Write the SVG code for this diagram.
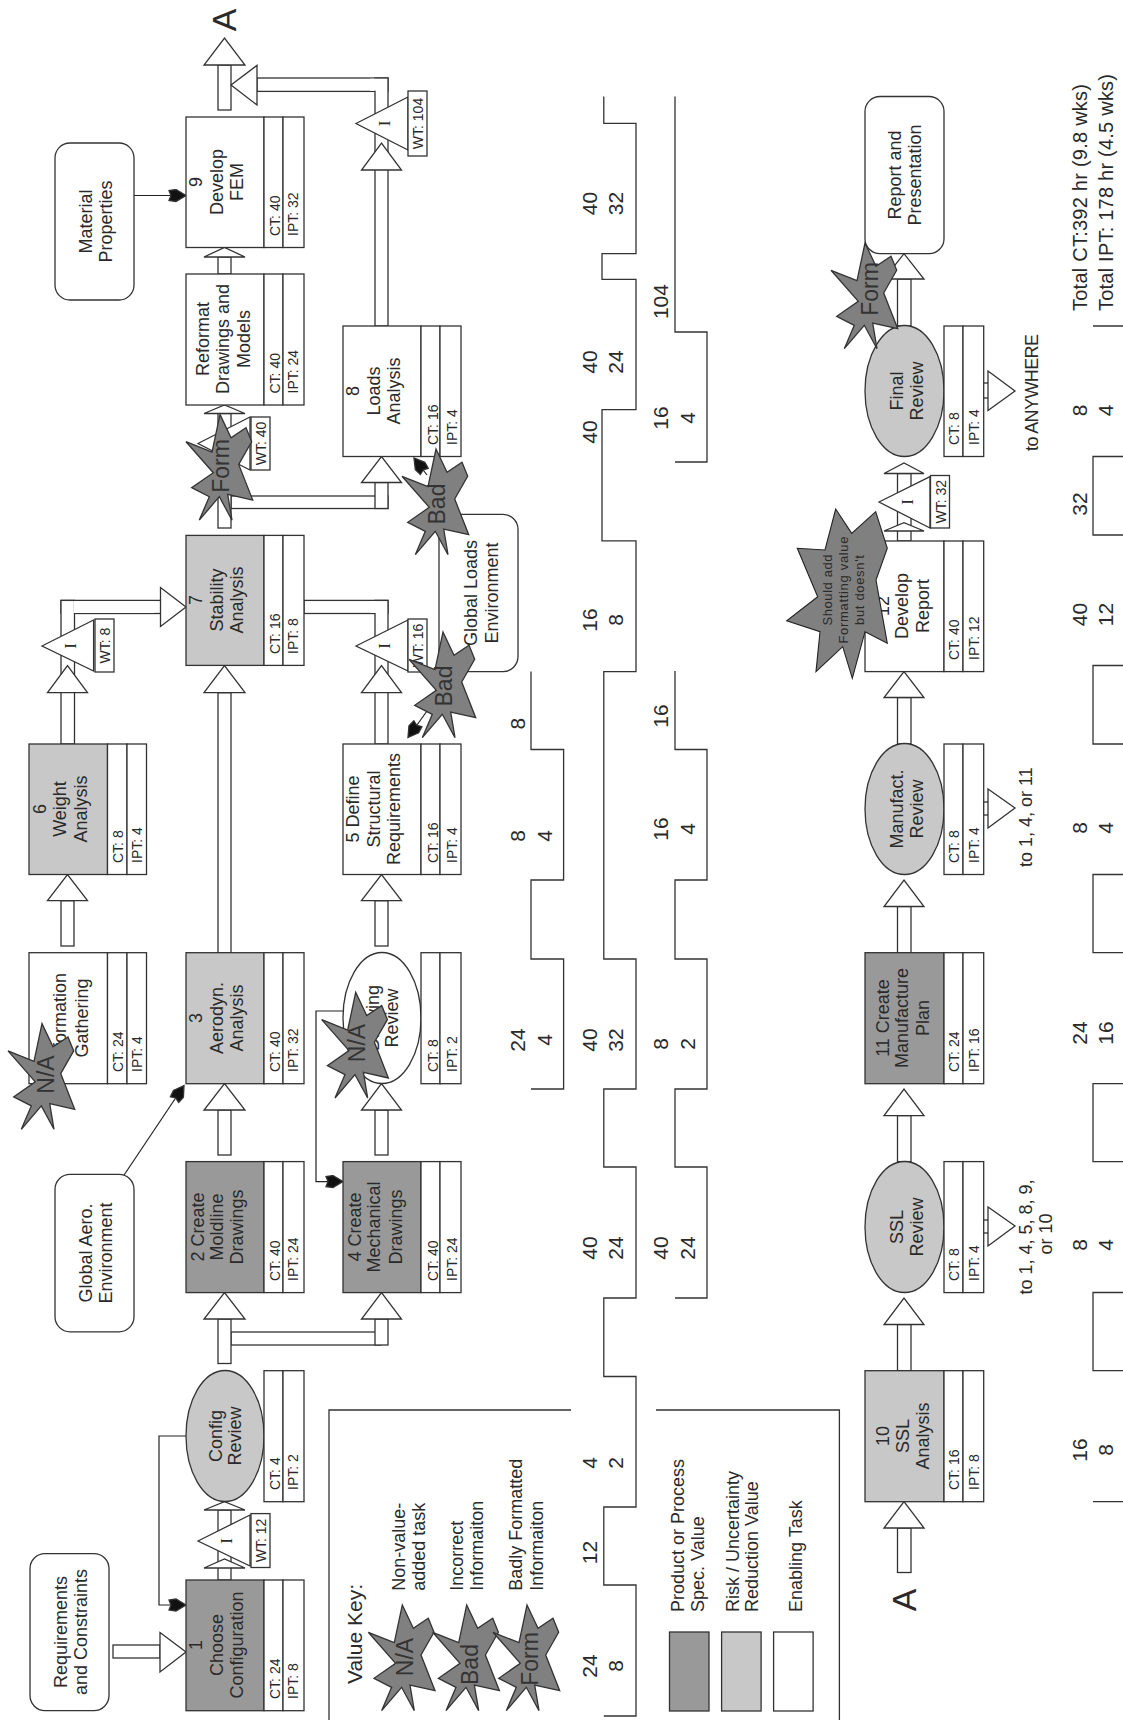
<svg xmlns="http://www.w3.org/2000/svg" xmlns:xlink="http://www.w3.org/1999/xlink" width="1123" height="1720" viewBox="0 0 1123 1720">
<style>
rect,polygon,ellipse,path,line,polyline{stroke:#333;stroke-width:1.3}
.w{fill:#fff}.d{fill:#999}.l{fill:#c8c8c8}
.st{fill:#808080;stroke:#222;stroke-width:1.1}
.ln{fill:none}
.f{stroke:#222;fill:none;stroke-width:1.2}
text{font-family:"Liberation Sans",Arial,sans-serif;fill:#2a2a2a;stroke:none}
.t{font-size:18px;text-anchor:middle}
.c{font-size:14px}
.wt{font-size:14px;text-anchor:middle}
.i{font-family:"Liberation Serif",serif;font-size:17px;text-anchor:middle}
.n{font-size:21px;text-anchor:middle}
.k{font-size:18px}
.a{font-size:34px;text-anchor:middle}
.sx{font-size:23px;text-anchor:middle;fill:#333}
.sm{font-size:13px;text-anchor:middle}
</style>
<defs>
<marker id="dart" markerUnits="userSpaceOnUse" markerWidth="20" markerHeight="14" viewBox="-18 -7 19 14" refX="0" refY="0" orient="auto">
<polygon points="0,0 -10,-6 -17,-5 -15,0 -17,5 -10,6" fill="#111" stroke="#111" stroke-width="0.5"/>
</marker>
<polygon id="star" points="34,0 45,23.3 60,13.3 65.7,27.3 52.7,50 66.7,85.7 41.7,80 46,105.7 33.3,82.3 13.3,105.7 23.3,82.3 5.7,73.3 27.3,58.3 0,27.3 26,37.7"/>
</defs>

<g id="timeline">
<polyline class="ln" points="603.8,96.5 603.8,123.3 636,123.3 636,253.7 602,253.7 602,279.4 636,279.4 636,409.7 602,409.7 602,540.9 636,540.9 636,671.6 603.8,671.6 603.8,959 636,959 636,1089 603.8,1089 603.8,1167 636,1167 636,1298 603.8,1298 603.8,1376.5 636,1376.5 636,1507 603.8,1507 603.8,1585 636,1585 636,1716 603.8,1716"/>
<polyline class="ln" points="675,96.5 675,332 707,332 707,462 675,462"/>
<polyline class="ln" points="675,671 675,749.5 707,749.5 707,880 675,880 675,959 707,959 707,1089 675,1089 675,1167 707,1167 707,1298 675,1298"/>
<polyline class="ln" points="531,671.6 531,749.5 563.6,749.5 563.6,880 531,880 531,959 563.6,959 563.6,1089 531,1089"/>
<polyline class="ln" points="1130,326 1093,326"/>
<polyline class="ln" points="1130,456.5 1093,456.5 1093,535 1130,535"/>
<polyline class="ln" points="1130,665.5 1093,665.5 1093,744 1130,744"/>
<polyline class="ln" points="1130,874.5 1093,874.5 1093,952.7 1130,952.7"/>
<polyline class="ln" points="1130,1083.6 1093,1083.6 1093,1161.6 1130,1161.6"/>
<polyline class="ln" points="1130,1292.5 1093,1292.5 1093,1370.7 1130,1370.7"/>
<polyline class="ln" points="1130,1501.6 1093,1501.6"/>
<g class="n">
<text class="n" transform="translate(597,203.5) rotate(-90)">40</text><text class="n" transform="translate(623,203.5) rotate(-90)">32</text>
<text class="n" transform="translate(597,362) rotate(-90)">40</text><text class="n" transform="translate(623,362) rotate(-90)">24</text>
<text class="n" transform="translate(597,432) rotate(-90)">40</text>
<text class="n" transform="translate(597,620) rotate(-90)">16</text><text class="n" transform="translate(623,620) rotate(-90)">8</text>
<text class="n" transform="translate(597,1040) rotate(-90)">40</text><text class="n" transform="translate(623,1040) rotate(-90)">32</text>
<text class="n" transform="translate(597,1248) rotate(-90)">40</text><text class="n" transform="translate(623,1248) rotate(-90)">24</text>
<text class="n" transform="translate(597,1463) rotate(-90)">4</text><text class="n" transform="translate(623,1463) rotate(-90)">2</text>
<text class="n" transform="translate(597,1552.5) rotate(-90)">12</text>
<text class="n" transform="translate(597,1666) rotate(-90)">24</text><text class="n" transform="translate(623,1666) rotate(-90)">8</text>
<text class="n" transform="translate(667.7,301.6) rotate(-90)">104</text>
<text class="n" transform="translate(667.7,418) rotate(-90)">16</text><text class="n" transform="translate(694.6,418) rotate(-90)">4</text>
<text class="n" transform="translate(667.7,716) rotate(-90)">16</text>
<text class="n" transform="translate(667.7,829) rotate(-90)">16</text><text class="n" transform="translate(694.6,829) rotate(-90)">4</text>
<text class="n" transform="translate(667.7,1044) rotate(-90)">8</text><text class="n" transform="translate(694.6,1044) rotate(-90)">2</text>
<text class="n" transform="translate(667.7,1248) rotate(-90)">40</text><text class="n" transform="translate(694.6,1248) rotate(-90)">24</text>
<text class="n" transform="translate(525,723.6) rotate(-90)">8</text>
<text class="n" transform="translate(525,836) rotate(-90)">8</text><text class="n" transform="translate(552,836) rotate(-90)">4</text>
<text class="n" transform="translate(525,1040) rotate(-90)">24</text><text class="n" transform="translate(552,1040) rotate(-90)">4</text>
<text class="n" transform="translate(1087,410.5) rotate(-90)">8</text><text class="n" transform="translate(1113,410.5) rotate(-90)">4</text>
<text class="n" transform="translate(1087,504) rotate(-90)">32</text>
<text class="n" transform="translate(1087,614.5) rotate(-90)">40</text><text class="n" transform="translate(1113,614.5) rotate(-90)">12</text>
<text class="n" transform="translate(1087,828) rotate(-90)">8</text><text class="n" transform="translate(1113,828) rotate(-90)">4</text>
<text class="n" transform="translate(1087,1033) rotate(-90)">24</text><text class="n" transform="translate(1113,1033) rotate(-90)">16</text>
<text class="n" transform="translate(1087,1245) rotate(-90)">8</text><text class="n" transform="translate(1113,1245) rotate(-90)">4</text>
<text class="n" transform="translate(1087,1450) rotate(-90)">16</text><text class="n" transform="translate(1113,1450) rotate(-90)">8</text>
</g>
<text font-size="20" transform="translate(1087,311) rotate(-90)" textLength="227">Total CT:392 hr (9.8 wks)</text>
<text font-size="20" transform="translate(1113,311) rotate(-90)" textLength="237">Total IPT: 178 hr (4.5 wks)</text>
</g>

<g id="legend">
<polyline class="ln" points="571,1410 329,1410 329,1720"/>
<polyline class="ln" points="656,1410 839.4,1410 839.4,1720"/>
<text font-size="21" transform="translate(362,1684) rotate(-90)" textLength="100">Value Key:</text>
<text class="k" transform="translate(405,1590.7) rotate(-90)">Non-value-</text>
<text class="k" transform="translate(425,1590.7) rotate(-90)">added task</text>
<text class="k" transform="translate(462.5,1590.7) rotate(-90)">Incorrect</text>
<text class="k" transform="translate(483,1590.7) rotate(-90)">Informaiton</text>
<text class="k" transform="translate(522,1590.7) rotate(-90)">Badly Formatted</text>
<text class="k" transform="translate(543,1590.7) rotate(-90)">Informaiton</text>
<rect class="d" x="669.5" y="1632" width="39.5" height="79"/>
<rect class="l" x="721.6" y="1632" width="39.5" height="79"/>
<rect class="w" x="773.6" y="1632" width="39.5" height="79"/>
<text class="k" transform="translate(684,1612) rotate(-90)">Product or Process</text>
<text class="k" transform="translate(704,1612) rotate(-90)">Spec. Value</text>
<text class="k" transform="translate(738.5,1612) rotate(-90)">Risk / Uncertainty</text>
<text class="k" transform="translate(758,1612) rotate(-90)">Reduction Value</text>
<text class="k" transform="translate(802,1612) rotate(-90)">Enabling Task</text>
</g>

<g id="connectors">
<!-- requirements to 1 -->
<rect class="w" x="113" y="1645" width="47" height="13"/>
<polygon class="w" points="160,1632.5 160,1672 186,1652"/>
<!-- 1 to config -->
<rect class="w" x="218" y="1510" width="13" height="70"/>
<polygon class="w" points="204,1568 245,1568 224.5,1559"/>
<polygon class="w" points="204,1510 245,1510 224.5,1501.6"/>
<!-- config feedback -->
<polyline class="f" points="186,1436 159,1436 159,1605 186,1605" marker-end="url(#dart)"/>
<!-- config to 2 and 4 -->
<rect class="w" x="231" y="1332" width="150" height="13"/>
<rect class="w" x="375" y="1319" width="13" height="26"/>
<rect class="w" x="218" y="1319" width="13" height="44.5"/>
<polygon class="w" points="204,1319 245,1319 224.5,1292.5"/>
<polygon class="w" points="361.5,1319 401.5,1319 381.5,1292.5"/>
<!-- 2 to 3 -->
<rect class="w" x="218" y="1110" width="13" height="45"/>
<polygon class="w" points="204,1110 245,1110 224.5,1083.6"/>
<!-- 4 to review -->
<rect class="w" x="375" y="1110" width="13" height="45"/>
<polygon class="w" points="361.5,1110 401.5,1110 381.5,1083.6"/>
<!-- review feedback -->
<polyline class="f" points="343,1011 316,1011 316,1181.6 343,1181.6" marker-end="url(#dart)"/>
<!-- aero env -->
<line class="f" x1="121.4" y1="1179" x2="184" y2="1085.5" marker-end="url(#dart)"/>
<!-- info to 6 -->
<rect class="w" x="61" y="900.7" width="13" height="45.3"/>
<polygon class="w" points="47.5,900.7 87.5,900.7 67.5,874.5"/>
<!-- review to 5 -->
<rect class="w" x="375" y="900.7" width="13" height="45.3"/>
<polygon class="w" points="361.5,900.7 401.5,900.7 381.5,874.5"/>
<!-- 3 to 7 -->
<rect class="w" x="218" y="692.7" width="13" height="260"/>
<polygon class="w" points="204,692.7 245,692.7 224.5,665.5"/>
<!-- 6 to 7 -->
<rect class="w" x="61" y="600.4" width="100" height="13.1"/>
<rect class="w" x="61" y="600.4" width="13.5" height="143.6" style="stroke-dasharray:none"/>
<polygon class="w" points="47.5,692.7 87.5,692.7 67.5,665.5"/>
<rect class="w" x="74" y="601" width="80" height="12" style="stroke:none"/>
<polygon class="w" points="160.5,587.5 160.5,626.5 186,607"/>
<!-- 5 to 7 (merge) and on to 8 -->
<rect class="w" x="304" y="600.4" width="84" height="13.1"/>
<rect class="w" x="375" y="600.4" width="13" height="143.6"/>
<rect class="w" x="370" y="601" width="6" height="12" style="stroke:none"/>
<polygon class="w" points="361.5,692.7 401.5,692.7 381.5,665.5"/>
<!-- 7 to reformat and 8 -->
<rect class="w" x="231" y="496" width="157" height="12.5"/>
<rect class="w" x="375" y="482.5" width="13" height="26"/>
<polygon class="w" points="361.5,482.5 401.5,482.5 381.5,456.5"/>
<rect class="w" x="218" y="413.5" width="13" height="114.5"/>
<polygon class="w" points="204,413.5 245,413.5 224.5,405"/>
<!-- reformat to 9 -->
<rect class="w" x="218" y="257" width="13" height="17"/>
<polygon class="w" points="204,257 245,257 224.5,247.5"/>
<!-- 8 to A -->
<rect class="w" x="257" y="78" width="131" height="13.4"/>
<rect class="w" x="375" y="78" width="13" height="248"/>
<rect class="w" x="370" y="78.7" width="6" height="12" style="stroke:none"/>
<polygon class="w" points="361.5,170 401.5,170 381.5,143"/>
<rect class="w" x="218" y="65" width="13" height="45"/>
<polygon class="w" points="204,65 245,65 224.5,38"/>
<polygon class="w" points="257,65.4 257,105 231,85"/>
<!-- material -->
<line class="f" x1="134" y1="195.5" x2="186" y2="195.5" marker-end="url(#dart)"/>
<!-- global loads -->
<line class="f" x1="427" y1="475" x2="414" y2="458" marker-end="url(#dart)"/>
<line class="f" x1="427" y1="711" x2="408" y2="737.5" marker-end="url(#dart)"/>
<!-- bottom row -->
<rect class="w" x="897.5" y="1528" width="13.5" height="44.5"/>
<polygon class="w" points="884,1528 924,1528 904,1501.6"/>
<rect class="w" x="897.5" y="1324.5" width="13.5" height="46.2"/>
<polygon class="w" points="884,1324.5 924,1324.5 904,1298"/>
<rect class="w" x="897.5" y="1115.6" width="13.5" height="46"/>
<polygon class="w" points="884,1115.6 924,1115.6 904,1089"/>
<rect class="w" x="897.5" y="906.5" width="13.5" height="46.2"/>
<polygon class="w" points="884,906.5 924,906.5 904,880"/>
<rect class="w" x="897.5" y="697.5" width="13.5" height="46.5"/>
<polygon class="w" points="884,697.5 924,697.5 904,671.6"/>
<rect class="w" x="897.5" y="473.5" width="13.5" height="67.5"/>
<polygon class="w" points="884,531 924,531 904,522.6"/>
<polygon class="w" points="884,473.5 924,473.5 904,463"/>
<rect class="w" x="897.5" y="279" width="13.5" height="47"/>
<polygon class="w" points="884,279 924,279 904,253.7"/>
</g>

<text class="a" transform="translate(236,20) rotate(-90)">A</text>
<text class="a" transform="translate(915.5,1600) rotate(-90)">A</text>

<g id="req"><rect class="w" x="30" y="1553.6" width="79" height="157" rx="15"/>
<text class="t" transform="translate(67,1632) rotate(-90)">Requirements</text><text class="t" transform="translate(87,1632) rotate(-90)">and Constraints</text></g>
<g id="aero"><rect class="w" x="55" y="1174.4" width="79" height="157.4" rx="15"/>
<text class="t" transform="translate(92,1253) rotate(-90)">Global Aero.</text><text class="t" transform="translate(111.5,1253) rotate(-90)">Environment</text></g>
<g id="material"><rect class="w" x="55" y="143" width="79" height="157" rx="15"/>
<text class="t" transform="translate(92,221.5) rotate(-90)">Material</text><text class="t" transform="translate(111.5,221.5) rotate(-90)">Properties</text></g>
<g id="loadsenv"><rect class="w" x="439" y="514.4" width="79" height="157.2" rx="15"/>
<text class="t" transform="translate(477,593) rotate(-90)">Global Loads</text><text class="t" transform="translate(498,593) rotate(-90)">Environment</text></g>
<g id="report"><rect class="w" x="865" y="96.5" width="79" height="157.2" rx="15"/>
<text class="t" transform="translate(901,175) rotate(-90)">Report and</text><text class="t" transform="translate(921,175) rotate(-90)">Presentation</text></g>

<g id="task1"><rect class="d" x="186" y="1580" width="78" height="130.7"/><rect class="w" x="264" y="1580" width="19" height="130.7"/><rect class="w" x="283" y="1580" width="21" height="130.7"/>
<text class="t" transform="translate(202,1645) rotate(-90)">1</text><text class="t" transform="translate(223,1645) rotate(-90)">Choose</text><text class="t" transform="translate(243,1645) rotate(-90)">Configuration</text>
<text class="c" transform="translate(280,1699) rotate(-90)">CT: 24</text><text class="c" transform="translate(298,1699) rotate(-90)">IPT: 8</text></g>

<g id="config"><ellipse class="l" cx="225" cy="1436" rx="39" ry="65.5"/><rect class="w" x="264" y="1370.7" width="19" height="131"/><rect class="w" x="283" y="1370.7" width="21" height="131"/>
<text class="t" transform="translate(221.5,1436) rotate(-90)">Config</text><text class="t" transform="translate(241,1436) rotate(-90)">Review</text>
<text class="c" transform="translate(280,1490) rotate(-90)">CT: 4</text><text class="c" transform="translate(298,1490) rotate(-90)">IPT: 2</text></g>

<g id="task2"><rect class="d" x="186" y="1161.6" width="78" height="131"/><rect class="w" x="264" y="1161.6" width="19" height="131"/><rect class="w" x="283" y="1161.6" width="21" height="131"/>
<text class="t" transform="translate(203.5,1227) rotate(-90)">2 Create</text><text class="t" transform="translate(223,1227) rotate(-90)">Moldline</text><text class="t" transform="translate(243,1227) rotate(-90)">Drawings</text>
<text class="c" transform="translate(280,1281) rotate(-90)">CT: 40</text><text class="c" transform="translate(298,1281) rotate(-90)">IPT: 24</text></g>

<g id="task4"><rect class="d" x="343" y="1161.6" width="78" height="131"/><rect class="w" x="421" y="1161.6" width="19" height="131"/><rect class="w" x="440" y="1161.6" width="21" height="131"/>
<text class="t" transform="translate(360.7,1227) rotate(-90)">4 Create</text><text class="t" transform="translate(380,1227) rotate(-90)">Mechanical</text><text class="t" transform="translate(402,1227) rotate(-90)">Drawings</text>
<text class="c" transform="translate(437.5,1281) rotate(-90)">CT: 40</text><text class="c" transform="translate(456.5,1281) rotate(-90)">IPT: 24</text></g>

<g id="task3"><rect class="l" x="186" y="952.7" width="78" height="131"/><rect class="w" x="264" y="952.7" width="19" height="131"/><rect class="w" x="283" y="952.7" width="21" height="131"/>
<text class="t" transform="translate(202,1018) rotate(-90)">3</text><text class="t" transform="translate(223,1018) rotate(-90)">Aerodyn.</text><text class="t" transform="translate(243,1018) rotate(-90)">Analysis</text>
<text class="c" transform="translate(280,1072) rotate(-90)">CT: 40</text><text class="c" transform="translate(298,1072) rotate(-90)">IPT: 32</text></g>

<g id="info"><rect class="w" x="29" y="952.7" width="78.5" height="131"/><rect class="w" x="107.5" y="952.7" width="19.5" height="131"/><rect class="w" x="127" y="952.7" width="19.5" height="131"/>
<text class="t" transform="translate(66,1018) rotate(-90)">Information</text><text class="t" transform="translate(87.5,1018) rotate(-90)">Gathering</text>
<text class="c" transform="translate(123,1072) rotate(-90)">CT: 24</text><text class="c" transform="translate(142,1072) rotate(-90)">IPT: 4</text></g>

<g id="drawreview"><ellipse class="w" cx="382" cy="1018" rx="39" ry="65.5"/><rect class="w" x="421" y="952.7" width="19" height="131"/><rect class="w" x="440" y="952.7" width="21" height="131"/>
<text class="t" transform="translate(378.6,1018) rotate(-90)">Drawing</text><text class="t" transform="translate(397.5,1018) rotate(-90)">Review</text>
<text class="c" transform="translate(437.5,1072) rotate(-90)">CT: 8</text><text class="c" transform="translate(456.5,1072) rotate(-90)">IPT: 2</text></g>

<g id="task6"><rect class="l" x="29" y="744" width="78.5" height="130.5"/><rect class="w" x="107.5" y="744" width="19.5" height="130.5"/><rect class="w" x="127" y="744" width="19.5" height="130.5"/>
<text class="t" transform="translate(46,809) rotate(-90)">6</text><text class="t" transform="translate(66,809) rotate(-90)">Weight</text><text class="t" transform="translate(87,809) rotate(-90)">Analysis</text>
<text class="c" transform="translate(123,863) rotate(-90)">CT: 8</text><text class="c" transform="translate(142,863) rotate(-90)">IPT: 4</text></g>

<g id="task5"><rect class="w" x="343" y="744" width="78" height="130.5"/><rect class="w" x="421" y="744" width="19" height="130.5"/><rect class="w" x="440" y="744" width="21" height="130.5"/>
<text class="t" transform="translate(359,809) rotate(-90)">5 Define</text><text class="t" transform="translate(380,809) rotate(-90)">Structural</text><text class="t" transform="translate(400,809) rotate(-90)">Requirements</text>
<text class="c" transform="translate(437.5,863) rotate(-90)">CT: 16</text><text class="c" transform="translate(456.5,863) rotate(-90)">IPT: 4</text></g>

<g id="task7"><rect class="l" x="186" y="535.4" width="78" height="130"/><rect class="w" x="264" y="535.4" width="19" height="130"/><rect class="w" x="283" y="535.4" width="21" height="130"/>
<text class="t" transform="translate(202,600) rotate(-90)">7</text><text class="t" transform="translate(223,600) rotate(-90)">Stability</text><text class="t" transform="translate(243,600) rotate(-90)">Analysis</text>
<text class="c" transform="translate(280,654) rotate(-90)">CT: 16</text><text class="c" transform="translate(298,654) rotate(-90)">IPT: 8</text></g>

<g id="task8"><rect class="w" x="343" y="326" width="78" height="130.5"/><rect class="w" x="421" y="326" width="19" height="130.5"/><rect class="w" x="440" y="326" width="21" height="130.5"/>
<text class="t" transform="translate(359,391) rotate(-90)">8</text><text class="t" transform="translate(380,391) rotate(-90)">Loads</text><text class="t" transform="translate(400,391) rotate(-90)">Analysis</text>
<text class="c" transform="translate(437.5,445) rotate(-90)">CT: 16</text><text class="c" transform="translate(456.5,445) rotate(-90)">IPT: 4</text></g>

<g id="reformat"><rect class="w" x="186" y="274" width="78" height="131"/><rect class="w" x="264" y="274" width="19" height="131"/><rect class="w" x="283" y="274" width="21" height="131"/>
<text class="t" transform="translate(209,339) rotate(-90)">Reformat</text><text class="t" transform="translate(228.5,339) rotate(-90)">Drawings and</text><text class="t" transform="translate(250,339) rotate(-90)">Models</text>
<text class="c" transform="translate(280,393.5) rotate(-90)">CT: 40</text><text class="c" transform="translate(298,393.5) rotate(-90)">IPT: 24</text></g>

<g id="task9"><rect class="w" x="186" y="117" width="78" height="130.5"/><rect class="w" x="264" y="117" width="19" height="130.5"/><rect class="w" x="283" y="117" width="21" height="130.5"/>
<text class="t" transform="translate(202,182) rotate(-90)">9</text><text class="t" transform="translate(223,182) rotate(-90)">Develop</text><text class="t" transform="translate(243,182) rotate(-90)">FEM</text>
<text class="c" transform="translate(280,236) rotate(-90)">CT: 40</text><text class="c" transform="translate(298,236) rotate(-90)">IPT: 32</text></g>

<g id="task10"><rect class="l" x="865" y="1370.7" width="79" height="131"/><rect class="w" x="944" y="1370.7" width="19" height="131"/><rect class="w" x="963" y="1370.7" width="20.7" height="131"/>
<text class="t" transform="translate(888.5,1436) rotate(-90)">10</text><text class="t" transform="translate(909,1436) rotate(-90)">SSL</text><text class="t" transform="translate(929,1436) rotate(-90)">Analysis</text>
<text class="c" transform="translate(959,1490) rotate(-90)">CT: 16</text><text class="c" transform="translate(979,1490) rotate(-90)">IPT: 8</text></g>

<g id="sslreview"><ellipse class="l" cx="904.5" cy="1227" rx="39.5" ry="65.5"/><rect class="w" x="944" y="1161.6" width="19" height="131"/><rect class="w" x="963" y="1161.6" width="20.7" height="131"/>
<text class="t" transform="translate(903,1227) rotate(-90)">SSL</text><text class="t" transform="translate(923,1227) rotate(-90)">Review</text>
<text class="c" transform="translate(959,1281) rotate(-90)">CT: 8</text><text class="c" transform="translate(979,1281) rotate(-90)">IPT: 4</text></g>
<g id="out1"><rect class="w" x="983.7" y="1220" width="5" height="13"/><polygon class="w" points="988,1207 988,1246 1015,1226"/>
<text class="k" style="text-anchor:middle" transform="translate(1032,1237) rotate(-90)">to 1, 4, 5, 8, 9,</text><text class="k" style="text-anchor:middle" transform="translate(1052,1234) rotate(-90)">or 10</text></g>

<g id="task11"><rect class="d" x="865" y="952.7" width="79" height="131"/><rect class="w" x="944" y="952.7" width="19" height="131"/><rect class="w" x="963" y="952.7" width="20.7" height="131"/>
<text class="t" transform="translate(888.5,1018) rotate(-90)">11 Create</text><text class="t" transform="translate(908,1018) rotate(-90)">Manufacture</text><text class="t" transform="translate(929,1018) rotate(-90)">Plan</text>
<text class="c" transform="translate(959,1072) rotate(-90)">CT: 24</text><text class="c" transform="translate(979,1072) rotate(-90)">IPT: 16</text></g>

<g id="manreview"><ellipse class="l" cx="904.5" cy="809" rx="39.5" ry="65.5"/><rect class="w" x="944" y="744" width="19" height="130.5"/><rect class="w" x="963" y="744" width="20.7" height="130.5"/>
<text class="t" transform="translate(903,809) rotate(-90)">Manufact.</text><text class="t" transform="translate(923,809) rotate(-90)">Review</text>
<text class="c" transform="translate(959,863) rotate(-90)">CT: 8</text><text class="c" transform="translate(979,863) rotate(-90)">IPT: 4</text></g>
<g id="out2"><rect class="w" x="983.7" y="802" width="5" height="13"/><polygon class="w" points="988,789 988,828 1015,808"/>
<text class="k" transform="translate(1032,867) rotate(-90)">to 1, 4, or 11</text></g>

<g id="task12"><rect class="w" x="865" y="541" width="79" height="130.6"/><rect class="w" x="944" y="541" width="19" height="130.6"/><rect class="w" x="963" y="541" width="20.7" height="130.6"/>
<text class="t" transform="translate(888.5,606) rotate(-90)">12</text><text class="t" transform="translate(908,606) rotate(-90)">Develop</text><text class="t" transform="translate(929,606) rotate(-90)">Report</text>
<text class="c" transform="translate(959,660) rotate(-90)">CT: 40</text><text class="c" transform="translate(979,660) rotate(-90)">IPT: 12</text></g>

<g id="finalreview"><ellipse class="l" cx="904.5" cy="391" rx="39.5" ry="65.5"/><rect class="w" x="944" y="326" width="19" height="130.5"/><rect class="w" x="963" y="326" width="20.7" height="130.5"/>
<text class="t" transform="translate(903,391) rotate(-90)">Final</text><text class="t" transform="translate(923,391) rotate(-90)">Review</text>
<text class="c" transform="translate(959,445) rotate(-90)">CT: 8</text><text class="c" transform="translate(979,445) rotate(-90)">IPT: 4</text></g>
<g id="out3"><rect class="w" x="983.7" y="383" width="5" height="15"/><polygon class="w" points="988,371 988,410.5 1015,391"/>
<text class="k" textLength="117" transform="translate(1037.6,451) rotate(-90)">to ANYWHERE</text></g>

<g id="insp1"><polygon class="w" points="198,1541 250,1515 250,1566"/><rect class="w" x="251" y="1513.6" width="19" height="53.9"/>
<text class="i" transform="translate(231.5,1541) rotate(-90)">I</text><text class="wt" transform="translate(266,1540.5) rotate(-90)">WT: 12</text></g>
<g id="insp2"><polygon class="w" points="42,646 93.6,620 93.6,671"/><rect class="w" x="95" y="619" width="19" height="53"/>
<text class="i" transform="translate(75.5,646) rotate(-90)">I</text><text class="wt" transform="translate(110,645.5) rotate(-90)">WT: 8</text></g>
<g id="insp3"><polygon class="w" points="356,646 408,620 408,671"/><rect class="w" x="408" y="619" width="19" height="53"/>
<text class="i" transform="translate(389.5,646) rotate(-90)">I</text><text class="wt" transform="translate(423,645.5) rotate(-90)">WT: 16</text></g>
<g id="insp4"><polygon class="w" points="198,443.5 250,417 250,470"/><rect class="w" x="251" y="417" width="19" height="53"/>
<text class="i" transform="translate(231.5,443.5) rotate(-90)">I</text><text class="wt" transform="translate(266,443.5) rotate(-90)">WT: 40</text></g>
<g id="insp5"><polygon class="w" points="356,123.5 408,97 408,150"/><rect class="w" x="408" y="91" width="19" height="65"/>
<text class="i" transform="translate(389.5,123.5) rotate(-90)">I</text><text class="wt" transform="translate(423,123.5) rotate(-90)">WT: 104</text></g>
<g id="insp6"><polygon class="w" points="879,502 930,476.6 930,528"/><rect class="w" x="930.5" y="475.5" width="19" height="52.5"/>
<text class="i" transform="translate(912.5,502) rotate(-90)">I</text><text class="wt" transform="translate(945.5,501.8) rotate(-90)">WT: 32</text></g>

<g id="stars">
<use href="#star" xlink:href="#star" class="st" x="8" y="1023.6"/><text class="sx" transform="translate(53.5,1074.5) rotate(-90)">N/A</text>
<use href="#star" xlink:href="#star" class="st" x="321.7" y="992.3"/><text class="sx" transform="translate(365,1043) rotate(-90)">N/A</text>
<use href="#star" xlink:href="#star" class="st" x="402" y="449"/><text class="sx" transform="translate(444.6,504) rotate(-90)">Bad</text>
<use href="#star" xlink:href="#star" class="st" x="409" y="632"/><text class="sx" transform="translate(451.8,686) rotate(-90)">Bad</text>
<use href="#star" xlink:href="#star" class="st" x="186" y="414.4"/><text class="sx" transform="translate(228.6,466) rotate(-90)">Form</text>
<use href="#star" xlink:href="#star" class="st" x="831" y="243"/><text class="sx" transform="translate(878,289) rotate(-90)">Form</text>
<use href="#star" xlink:href="#star" class="st" x="368.3" y="1605"/><text class="sx" transform="translate(412.7,1657) rotate(-90)">N/A</text>
<use href="#star" xlink:href="#star" class="st" x="432.7" y="1605"/><text class="sx" transform="translate(478,1664.5) rotate(-90)">Bad</text>
<use href="#star" xlink:href="#star" class="st" x="493" y="1605"/><text class="sx" transform="translate(537.5,1659) rotate(-90)">Form</text>
<polygon class="st" points="835.7,509 851.7,533.3 875.7,511.7 887.3,548.3 876,580 887.3,643.3 865,631.7 852.3,678.3 842.7,646.7 816,671.7 820,631.7 786.7,620.7 817.7,596.7 797.3,548.3 825,550"/>
<text class="sm" textLength="71" transform="translate(831.7,590) rotate(-90)">Should add</text>
<text class="sm" textLength="107" transform="translate(848,590) rotate(-90)">Formatting value</text>
<text class="sm" textLength="70" transform="translate(863.5,590) rotate(-90)">but doesn't</text>
</g>
</svg>
